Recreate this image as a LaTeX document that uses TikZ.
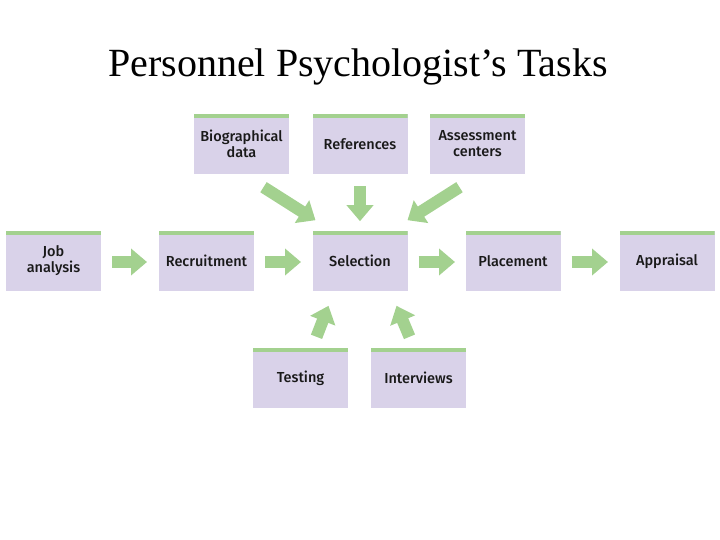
\documentclass[tikz,border=0pt]{standalone}
\usepackage{fontspec}
\setsansfont{Fira Sans}[UprightFont=* Medium]
\setmainfont{Liberation Serif}
\usetikzlibrary{arrows.meta}
\definecolor{boxc}{RGB}{217,210,233}
\definecolor{grn}{RGB}{163,209,143}
\tikzset{
  box/.style={fill=boxc, minimum width=95pt, minimum height=60pt, inner sep=2pt,
    align=center, font=\sffamily\fontsize{14.5pt}{16pt}\selectfont, text=black!90,
    path picture={\fill[grn] (path picture bounding box.north west) rectangle ([yshift=-4pt]path picture bounding box.north east);}},
  garrow/.style={draw=grn, line width=12pt, -{Triangle[width=26pt,length=16pt]}, grn}
}
\begin{document}
\begin{tikzpicture}[x=1pt,y=-1pt]
\useasboundingbox (0,0) rectangle (720,540);
\node[font=\fontsize{40pt}{46pt}\selectfont] (title) at (358,67) {Personnel Psychologist’s Tasks};
\node[box] (bio) at (241.5,144) {Biographical\\data};
\node[box] (ref) at (360,144) {References};
\node[box] (ass) at (477.5,144) {Assessment\\centers};
\node[box] (job) at (53.5,261) {Job\\analysis};
\node[box] (rec) at (206.5,261) {Recruitment};
\node[box] (sel) at (360,261) {Selection};
\node[box] (pla) at (513,261) {Placement};
\node[box] (app) at (667,261) {Appraisal};
\node[box] (tes) at (300.5,378) {Testing};
\node[box] (int) at (418.5,378) {Interviews};
\coordinate (b1) at (147,262);
\coordinate (b2) at (301,262);
\coordinate (b3) at (455,262);
\coordinate (b4) at (608,262);
\draw[garrow] (job.east) ++(11,1) -- (b1);
\draw[garrow] (rec.east) ++(11,1) -- (b2);
\draw[garrow] (sel.east) ++(11,1) -- (b3);
\draw[garrow] (pla.east) ++(11,1) -- (b4);
\draw[garrow] (ref.south) ++(0,12) -- ++(0,35);
\draw[garrow] (bio.south) ++(22,13) -- ++(52,33);
\draw[garrow] (ass.south) ++(-18,13) -- ++(-52,33);
\draw[garrow] (tes.north) ++(16,-11) -- ++(12,-31);
\draw[garrow] (int.north) ++(-9,-11) -- ++(-13,-31);
\end{tikzpicture}
\end{document}
